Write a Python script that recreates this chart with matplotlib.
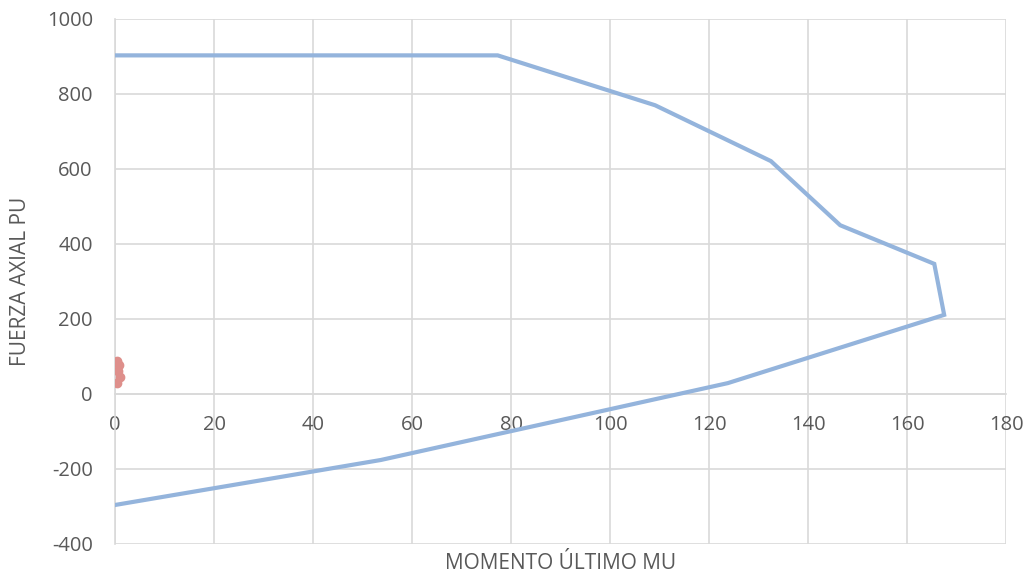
import matplotlib.pyplot as plt

plt.rcParams['font.family'] = ['Open Sans', 'DejaVu Sans']
plt.rcParams['axes.unicode_minus'] = False

# interaction diagram (Mu, Pu)
mu_curve = [0, 77.3, 109.1, 132.5, 146.5, 165.5, 167.5, 123.8, 53.7, 0]
pu_curve = [903, 903, 770, 621, 450, 347, 211, 29, -176, -296]

# applied loads
mu_loads = [0.4, 0.9, 0.6, 1.0, 0.5]
pu_loads = [88, 76, 60, 44, 28]

blue = '#94B4DC'
red = '#DE8F8B'
grid = '#D9D9D9'
text = '#595959'

fig = plt.figure(figsize=(10.27, 5.74), dpi=100)
ax = fig.add_axes([0.112, 0.0523, 0.8676, 0.9146])

ax.plot(mu_curve, pu_curve, color=blue, lw=3, solid_joinstyle='miter', zorder=3)
ax.plot(mu_loads, pu_loads, color=red, lw=5, marker='o', ms=6,
        solid_capstyle='round', zorder=4)

ax.set_xlim(0, 180)
ax.set_ylim(-400, 1000)
ax.set_xticks(range(0, 181, 20))
ax.set_yticks(range(-400, 1001, 200))

ax.grid(True, color=grid, lw=1.2, zorder=0)
ax.set_axisbelow(True)
for s in ['top', 'right']:
    ax.spines[s].set_visible(False)
ax.spines['left'].set_position(('data', 0))
ax.spines['bottom'].set_position(('data', 0))
for s in ['left', 'bottom']:
    ax.spines[s].set_color(grid)
    ax.spines[s].set_linewidth(1.2)

ax.tick_params(length=0, labelsize=14.5, labelcolor=text)
ax.tick_params(axis='x', pad=15)
ax.tick_params(axis='y', pad=16)

fig.text(0.546, 0.019, 'MOMENTO ÚLTIMO MU', ha='center', va='center',
         fontsize=15, color=text)
fig.text(0.02, 0.51, 'FUERZA AXIAL PU', ha='center', va='center',
         rotation=90, fontsize=15, color=text)

fig.savefig('out.png', dpi=100)
